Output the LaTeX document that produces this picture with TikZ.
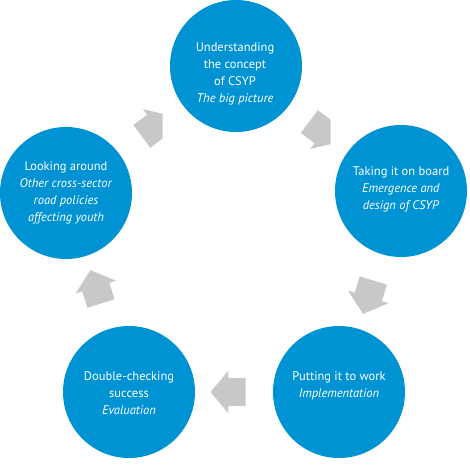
\documentclass[tikz,border=0pt]{standalone}
\usepackage{fontspec}
\setmainfont{PT Sans}
\usetikzlibrary{shapes.arrows}
\definecolor{stageblue}{RGB}{0,147,211}
\definecolor{arrowgray}{RGB}{200,200,200}
\newcommand{\bodystrut}{\rule{0pt}{28pt}}
\begin{document}
\begin{tikzpicture}[x=1pt,y=-1pt,
  stage/.style={circle,fill=stageblue,draw=none,minimum size=132pt,inner sep=0pt},
  txt/.style={text=white,align=center,inner sep=0pt,font=\fontsize{12.5}{17}\selectfont},
  flow/.style={single arrow,fill=arrowgray,draw=none,minimum height=35pt,
    single arrow head extend=7pt,single arrow tip angle=100,inner sep=0pt}]
\useasboundingbox (0,0) rectangle (470,466);
\node[stage] (s1) at (236,66) {};
\node[stage] (s2) at (401,191) {};
\node[stage] (s3) at (339,392) {};
\node[stage] (s4) at (129,392) {};
\node[stage] (s5) at (66,193) {};
\node[txt] (t1) at (235,74) {Understanding\\the concept\\of CSYP\\\textit{The big picture}};
\node[txt] (t2) at (401,189) {Taking it on board\\\textit{Emergence and}\\\textit{design of CSYP}};
\node[txt] (t3) at (339,386) {Putting it to work\\\textit{Implementation}};
\node[txt] (t4) at (129,393) {Double-checking\\success\\\textit{Evaluation}};
\node[txt] (t5) at (66,193) {Looking around\\\textit{Other cross-sector}\\\textit{road policies}\\\textit{affecting youth}};
\begin{scope}
  \clip (0,0) rectangle (330.5,466);
  \path (s1) -- (s2) node[midway,sloped,allow upside down,flow] (a1) {\bodystrut};
\end{scope}
\path (s2) -- (s3) node[midway,sloped,allow upside down,flow] (a2) {\bodystrut};
\path (s3) -- (s4) node[midway,sloped,allow upside down,flow] (a3) {\bodystrut};
\path (s4) -- (s5) node[midway,sloped,allow upside down,flow] (a4) {\bodystrut};
\begin{scope}
  \clip (0,0) rectangle (162.5,466);
  \path (s5) -- (s1) node[midway,sloped,allow upside down,flow] (a5) {\bodystrut};
\end{scope}
\end{tikzpicture}
\end{document}
